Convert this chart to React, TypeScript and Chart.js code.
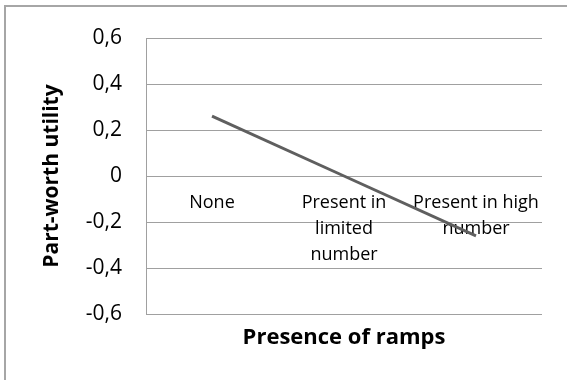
import React, { useEffect, useRef } from "react";
import { Chart, registerables } from "chart.js";

Chart.register(...registerables);

const categories: string[][] = [
  ["None"],
  ["Present in", "limited", "number"],
  ["Present in high", "number"],
];
const partWorth: number[] = [0.26, 0.0, -0.26];
const yTickValues: number[] = [-0.6, -0.4, -0.2, 0, 0.2, 0.4, 0.6];
const yTickLabels: string[] = ["-0,6", "-0,4", "-0,2", "0", "0,2", "0,4", "0,6"];
const xTitle = "Presence of ramps";
const yTitle = "Part-worth utility";

const FONT = "'Open Sans', 'DejaVu Sans', sans-serif";

const decorPlugin = {
  id: "decor",
  beforeDraw(chart: any) {
    const ctx = chart.ctx;
    ctx.save();
    ctx.fillStyle = "#ffffff";
    ctx.fillRect(0, 0, chart.width, chart.height);
    ctx.strokeStyle = "#a6a6a6";
    ctx.lineWidth = 2;
    ctx.strokeRect(5, 6, chart.width + 20, chart.height + 20);
    ctx.restore();
  },
  afterDraw(chart: any) {
    const ctx = chart.ctx;
    const area = chart.chartArea;
    ctx.save();
    ctx.fillStyle = "#000000";
    ctx.textAlign = "center";
    ctx.textBaseline = "middle";
    ctx.font = `bold 22px ${FONT}`;
    ctx.fillText(xTitle, (area.left + area.right) / 2, area.bottom + 24);
    ctx.font = `bold 21px ${FONT}`;
    ctx.translate(52, (area.top + area.bottom) / 2);
    ctx.rotate(-Math.PI / 2);
    ctx.fillText(yTitle, 0, 0);
    ctx.restore();
  },
};

export default function App() {
  const canvasRef = useRef<HTMLCanvasElement | null>(null);

  useEffect(() => {
    document.body.style.margin = "0";
    const canvas = canvasRef.current;
    if (!canvas) return;
    const chart = new Chart(canvas, {
      type: "line",
      data: {
        labels: categories,
        datasets: [
          {
            data: partWorth,
            borderColor: "#5f5f5f",
            borderWidth: 3,
            pointRadius: 0,
            tension: 0,
            fill: false,
          },
        ],
      },
      options: {
        animation: false,
        responsive: false,
        devicePixelRatio: 1,
        layout: { padding: { left: 0, top: 38, right: 25, bottom: 66 } },
        plugins: {
          legend: { display: false },
          tooltip: { enabled: false },
          title: { display: false },
        },
        scales: {
          x: {
            type: "category",
            position: { y: 0 },
            offset: true,
            grid: { display: false, drawTicks: false },
            border: { display: false },
            ticks: {
              color: "#000000",
              padding: 14,
              maxRotation: 0,
              autoSkip: false,
              font: { family: FONT, size: 18, lineHeight: "26px" },
            },
          },
          y: {
            type: "linear",
            min: -0.6,
            max: 0.6,
            afterBuildTicks: (scale: any) => {
              scale.ticks = yTickValues.map((v) => ({ value: v }));
            },
            afterFit: (scale: any) => {
              scale.width = 146;
            },
            grid: { color: "#a0a0a0", lineWidth: 1, drawTicks: false },
            border: { display: true, color: "#a0a0a0", width: 1 },
            ticks: {
              color: "#000000",
              padding: 24,
              font: { family: FONT, size: 21 },
              callback: (value: any) => {
                const i = yTickValues.findIndex((v) => Math.abs(v - Number(value)) < 1e-9);
                return i >= 0 ? yTickLabels[i] : "";
              },
            },
          },
        },
      },
      plugins: [decorPlugin],
    });
    return () => chart.destroy();
  }, []);

  return (
    <div style={{ width: 567, height: 380 }}>
      <canvas ref={canvasRef} width={567} height={380} style={{ display: "block" }} />
    </div>
  );
}
